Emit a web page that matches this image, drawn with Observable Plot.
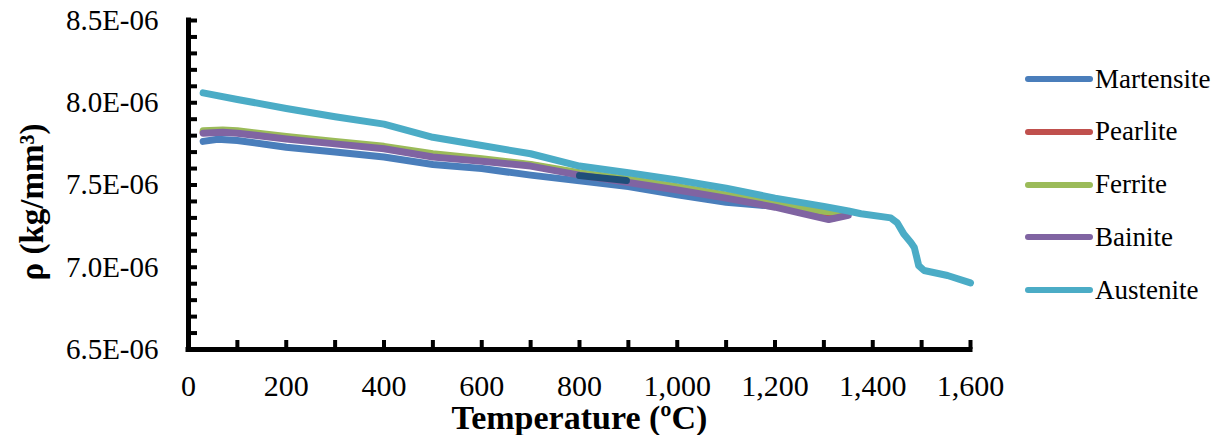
<!DOCTYPE html>
<html>
<head>
<meta charset="utf-8">
<script src="https://cdn.jsdelivr.net/npm/d3@7"></script>
<script src="https://cdn.jsdelivr.net/npm/@observablehq/plot@0.6"></script>
<style>
  html, body { margin: 0; padding: 0; background: #fff; }
  #wrap { position: relative; width: 1229px; height: 435px; overflow: hidden; font-family: "Liberation Serif", "Times New Roman", Tinos, serif; }
  .leg { position: absolute; left: 1025px; display: flex; align-items: center; height: 40px; font-size: 27px; color: #000; white-space: nowrap; }
  .leg svg { display: block; margin-right: 2px; }
</style>
</head>
<body>
<div id="wrap"></div>
<script>
// Series names and colours
const seriesNames = ["Martensite", "Pearlite", "Ferrite", "Bainite", "Austenite"];
const seriesColors = ["#4a7ebb", "#c0504d", "#9bbb59", "#8064a2", "#4bacc6"];

// Density values in units of 1E-06 kg/mm³
const martensiteT = [30, 60, 100, 200, 300, 400, 500, 600, 700, 800, 900, 1000, 1100, 1200, 1300, 1340];
const martensiteV = [7.765, 7.778, 7.77, 7.73, 7.70, 7.67, 7.625, 7.60, 7.56, 7.525, 7.49, 7.44, 7.395, 7.37, 7.345, 7.335];

const pearliteT = [30, 70, 100, 200, 300, 400, 500, 600, 700, 800, 900, 1000, 1100, 1200, 1250, 1320];
const pearliteV = [7.82, 7.827, 7.822, 7.787, 7.757, 7.727, 7.68, 7.652, 7.622, 7.567, 7.525, 7.48, 7.43, 7.372, 7.34, 7.30];

const ferriteT = [30, 70, 100, 200, 300, 400, 500, 600, 700, 800, 900, 1000, 1100, 1200, 1300, 1340];
const ferriteV = [7.83, 7.835, 7.83, 7.795, 7.765, 7.735, 7.69, 7.66, 7.625, 7.575, 7.535, 7.49, 7.44, 7.385, 7.34, 7.332];

const bainiteT = [30, 70, 100, 200, 300, 400, 500, 600, 700, 800, 900, 1000, 1100, 1200, 1250, 1310, 1350];
const bainiteV = [7.815, 7.82, 7.815, 7.78, 7.75, 7.72, 7.67, 7.645, 7.615, 7.56, 7.515, 7.47, 7.42, 7.365, 7.33, 7.29, 7.315];

const overlapT = [800, 896];
const overlapV = [7.557, 7.527];

const austeniteT = [30, 100, 200, 300, 400, 500, 600, 700, 800, 900, 1000, 1100, 1200, 1300, 1350, 1376, 1437, 1450, 1464, 1478, 1485, 1490, 1494, 1505, 1553, 1600];
const austeniteV = [8.06, 8.02, 7.965, 7.915, 7.87, 7.79, 7.74, 7.69, 7.615, 7.575, 7.53, 7.48, 7.42, 7.37, 7.342, 7.325, 7.30, 7.27, 7.20, 7.15, 7.12, 7.06, 7.01, 6.98, 6.95, 6.905];

// Tick labels
const xTickValues = [0, 200, 400, 600, 800, 1000, 1200, 1400, 1600];
const yTickValues = [6.5, 7.0, 7.5, 8.0, 8.5];
const xLabel = "Temperature (ºC)";
const yLabel = "ρ (kg/mm³)";

const rows = (name, T, V) => T.map((t, i) => ({series: name, t, v: V[i]}));
const data = [
  ...rows("Martensite", martensiteT, martensiteV),
  ...rows("Pearlite", pearliteT, pearliteV),
  ...rows("Ferrite", ferriteT, ferriteV),
  ...rows("Bainite", bainiteT, bainiteV),
  ...rows("Overlap", overlapT, overlapV),
  ...rows("Austenite", austeniteT, austeniteV)
];

const W = 1229, H = 435, mL = 188, mR = 259, mT = 20, mB = 86;
const plotW = W - mL - mR, plotH = H - mT - mB;
const FONT = '"Liberation Serif", "Times New Roman", Tinos, serif';

const colorDomain = [...seriesNames, "Overlap"];
const colorRange = [...seriesColors, "#1f4e79"];

const chart = Plot.plot({
  width: W, height: H,
  marginLeft: mL, marginRight: mR, marginTop: mT, marginBottom: mB,
  style: {fontFamily: FONT, background: "#fff", color: "#000", overflow: "hidden"},
  x: {domain: [0, 1600]},
  y: {domain: [6.5, 8.5]},
  color: {domain: colorDomain, range: colorRange},
  marks: [
    Plot.axisY(yTickValues, {tickSize: 0, tickPadding: 30, fontSize: 29, fontFamily: FONT, tickFormat: d => d.toFixed(1) + "E-06", label: null}),
    Plot.axisX(xTickValues, {tickSize: 0, tickPadding: 25, fontSize: 30, fontFamily: FONT, tickFormat: d3.format(","), label: null}),
    Plot.line(data, {x: "t", y: "v", z: "series", stroke: "series", strokeWidth: 7, strokeLinecap: "round", strokeLinejoin: "round"}),
    Plot.tickY(d3.range(65, 86).map(d => d / 10), {y: d => d, insetRight: plotW - 9, strokeWidth: 4, stroke: "#000"}),
    Plot.tickX(d3.range(100, 1601, 100), {x: d => d, insetTop: plotH - 9, strokeWidth: 4, stroke: "#000"}),
    Plot.ruleX([0], {strokeWidth: 5, stroke: "#000", strokeLinecap: "square"}),
    Plot.ruleY([6.5], {strokeWidth: 5, stroke: "#000", strokeLinecap: "square"}),
    Plot.text([yLabel], {text: d => d, frameAnchor: "left", textAnchor: "middle", lineAnchor: "middle", rotate: -90, dx: -156, dy: 17, fontSize: 33, fontWeight: "bold", fontFamily: FONT, fill: "#000"}),
    Plot.text([xLabel], {text: d => d, frameAnchor: "bottom", textAnchor: "middle", lineAnchor: "middle", dy: 69, fontSize: 34, fontWeight: "bold", fontFamily: FONT, fill: "#000"})
  ]
});

const wrap = document.getElementById("wrap");
wrap.appendChild(chart);

// Legend
seriesNames.forEach((name, i) => {
  const div = document.createElement("div");
  div.className = "leg";
  div.style.top = (79 + i * 52.75 - 20) + "px";
  div.innerHTML = `<svg width="68" height="10"><line x1="3" y1="5" x2="65" y2="5" stroke="${seriesColors[i]}" stroke-width="6" stroke-linecap="round"/></svg><span>${name}</span>`;
  wrap.appendChild(div);
});
</script>
</body>
</html>
